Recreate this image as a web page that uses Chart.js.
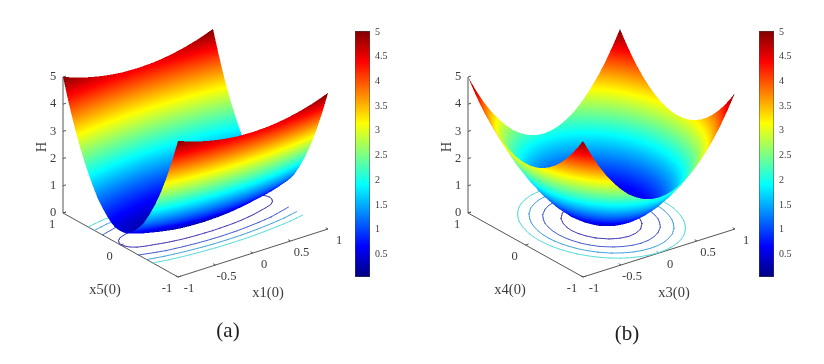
<!DOCTYPE html>
<html>
<head>
<meta charset="utf-8">
<title>H surfaces</title>
<script src="https://cdn.jsdelivr.net/npm/chart.js@4"></script>
<style>
  html, body { margin: 0; padding: 0; background: #fff; }
  body { width: 824px; height: 364px; position: relative; overflow: hidden; }
  canvas { position: absolute; filter: blur(0.4px); }
</style>
</head>
<body>
<canvas id="panelA" width="330" height="330" style="left:20px;top:20px"></canvas>
<canvas id="barA" width="50" height="270" style="left:350px;top:20px"></canvas>
<canvas id="panelB" width="330" height="330" style="left:425px;top:20px"></canvas>
<canvas id="barB" width="50" height="270" style="left:754px;top:20px"></canvas>
<script>
// grid positions on the floor axes, panel (a) has closer rows along its trough
const gridPos = [-1, -0.9, -0.8, -0.7, -0.6, -0.5, -0.4, -0.3, -0.2, -0.1, 0, 0.1, 0.2, 0.3, 0.4, 0.5, 0.6, 0.7, 0.8, 0.9, 1];
const rowPosA = [-1, -0.9, -0.8, -0.7, -0.6, -0.5, -0.4, -0.3, -0.25, -0.2, -0.15, -0.1, -0.05, 0, 0.05, 0.1, 0.15, 0.2, 0.25, 0.3, 0.4, 0.5, 0.6, 0.7, 0.8, 0.9, 1];

// H: rows x5 = 1 .. 0, columns x1 = 1 .. 0 (surface is symmetric)
const heightsA = [
  [5.00, 4.90, 4.80, 4.72, 4.65, 4.59, 4.54, 4.50, 4.47, 4.46, 4.45],
  [4.16, 4.06, 3.96, 3.88, 3.81, 3.75, 3.70, 3.66, 3.63, 3.62, 3.61],
  [3.41, 3.31, 3.21, 3.13, 3.06, 3.00, 2.95, 2.91, 2.88, 2.87, 2.86],
  [2.75, 2.65, 2.55, 2.47, 2.40, 2.34, 2.29, 2.25, 2.22, 2.21, 2.20],
  [2.18, 2.08, 1.98, 1.90, 1.83, 1.77, 1.72, 1.68, 1.65, 1.64, 1.63],
  [1.69, 1.59, 1.49, 1.41, 1.34, 1.28, 1.23, 1.19, 1.16, 1.15, 1.14],
  [1.26, 1.17, 1.08, 1.00, 0.94, 0.88, 0.84, 0.80, 0.77, 0.76, 0.75],
  [0.96, 0.87, 0.79, 0.73, 0.67, 0.62, 0.57, 0.54, 0.52, 0.51, 0.50],
  [0.83, 0.73, 0.65, 0.59, 0.53, 0.48, 0.43, 0.40, 0.38, 0.37, 0.36],
  [0.71, 0.62, 0.54, 0.48, 0.42, 0.37, 0.32, 0.29, 0.27, 0.26, 0.25],
  [0.61, 0.51, 0.43, 0.37, 0.31, 0.26, 0.21, 0.18, 0.16, 0.15, 0.14],
  [0.55, 0.45, 0.37, 0.31, 0.25, 0.20, 0.15, 0.12, 0.10, 0.09, 0.08],
  [0.52, 0.42, 0.34, 0.28, 0.22, 0.17, 0.12, 0.09, 0.07, 0.06, 0.05],
  [0.51, 0.41, 0.33, 0.27, 0.21, 0.16, 0.11, 0.08, 0.06, 0.05, 0.04]
];

// H: rows x4 = 1 .. 0, columns x3 = 1 .. 0
const heightsB = [
  [5.00, 4.44, 3.93, 3.49, 3.11, 2.78, 2.51, 2.31, 2.16, 2.07, 2.04],
  [4.62, 4.06, 3.55, 3.11, 2.73, 2.40, 2.13, 1.93, 1.78, 1.69, 1.66],
  [4.28, 3.72, 3.21, 2.77, 2.39, 2.06, 1.79, 1.59, 1.44, 1.35, 1.32],
  [3.98, 3.42, 2.91, 2.47, 2.09, 1.76, 1.49, 1.29, 1.14, 1.05, 1.02],
  [3.72, 3.16, 2.65, 2.21, 1.83, 1.50, 1.23, 1.03, 0.88, 0.79, 0.76],
  [3.50, 2.94, 2.43, 1.99, 1.61, 1.28, 1.01, 0.81, 0.66, 0.57, 0.54],
  [3.32, 2.76, 2.25, 1.81, 1.43, 1.10, 0.83, 0.63, 0.48, 0.39, 0.36],
  [3.18, 2.62, 2.11, 1.67, 1.29, 0.96, 0.69, 0.49, 0.34, 0.25, 0.22],
  [3.08, 2.52, 2.01, 1.57, 1.19, 0.86, 0.59, 0.39, 0.24, 0.15, 0.12],
  [3.02, 2.46, 1.95, 1.51, 1.13, 0.80, 0.53, 0.33, 0.18, 0.09, 0.06],
  [3.00, 2.44, 1.93, 1.49, 1.11, 0.78, 0.51, 0.31, 0.16, 0.07, 0.04]
];

const contourLevels = [0.5, 1, 1.5, 2];
const contourColors = ['#4a3fb5', '#4a62cf', '#4aa6dc', '#5fdcdc'];
const heightTicks = [0, 1, 2, 3, 4, 5];
const depthTicks = [-1, 0, 1];
const widthTicks = [-1, -0.5, 0, 0.5, 1];
const colorbarTicks = [0.5, 1, 1.5, 2, 2.5, 3, 3.5, 4, 4.5, 5];
const colorbarLimits = [0.04, 5.02];

const jetPos = [0, 0.125, 0.375, 0.625, 0.875, 1];
const jetRgb = [[0, 0, 128], [0, 0, 255], [0, 255, 255], [255, 255, 0], [255, 0, 0], [128, 0, 0]];

const axisColor = '#555';
const textColor = '#3c3c3c';
const serif = '"Liberation Serif", serif';

const mirror = row => row.concat(row.slice(0, -1).reverse());

function jet(h) {
  const t = Math.min(1, Math.max(0, (h - 0.04) / 4.96));
  let i = 0;
  while (i < jetPos.length - 2 && t > jetPos[i + 1]) i++;
  const f = (t - jetPos[i]) / (jetPos[i + 1] - jetPos[i]);
  return jetRgb[i].map((v, k) => Math.round(v + (jetRgb[i + 1][k] - v) * f));
}

// write one triangle into the image, colour follows H across it
function fillTriangle(img, scale, tri) {
  const [a, b, c] = tri;
  const ax = a.px * scale, ay = a.py * scale;
  const bx = b.px * scale, by = b.py * scale;
  const cx = c.px * scale, cy = c.py * scale;
  const det = (by - cy) * (ax - cx) + (cx - bx) * (ay - cy);
  if (Math.abs(det) < 1e-6) return;
  const x0 = Math.max(0, Math.floor(Math.min(ax, bx, cx)));
  const x1 = Math.min(img.width - 1, Math.ceil(Math.max(ax, bx, cx)));
  const y0 = Math.max(0, Math.floor(Math.min(ay, by, cy)));
  const y1 = Math.min(img.height - 1, Math.ceil(Math.max(ay, by, cy)));
  for (let y = y0; y <= y1; y++) {
    for (let x = x0; x <= x1; x++) {
      const w1 = ((by - cy) * (x + 0.5 - cx) + (cx - bx) * (y + 0.5 - cy)) / det;
      const w2 = ((cy - ay) * (x + 0.5 - cx) + (ax - cx) * (y + 0.5 - cy)) / det;
      const w3 = 1 - w1 - w2;
      if (w1 < -1e-4 || w2 < -1e-4 || w3 < -1e-4) continue;
      const rgb = jet(w1 * a.h + w2 * b.h + w3 * c.h);
      const i = (y * img.width + x) * 4;
      img.data[i] = rgb[0];
      img.data[i + 1] = rgb[1];
      img.data[i + 2] = rgb[2];
      img.data[i + 3] = 255;
    }
  }
}

function contourSegment(ctx, tri, level) {
  const hits = [];
  tri.forEach((p, i) => {
    const q = tri[(i + 1) % 3];
    if ((p.h < level) !== (q.h < level)) {
      const t = (level - p.h) / (q.h - p.h);
      hits.push([p.gx + (q.gx - p.gx) * t, p.gy + (q.gy - p.gy) * t]);
    }
  });
  if (hits.length === 2) {
    ctx.moveTo(hits[0][0], hits[0][1]);
    ctx.lineTo(hits[1][0], hits[1][1]);
  }
}

function makePanel(id, heights, rowPos, view) {
  const table = mirror(heights).map(mirror);
  const rows = rowPos.length, cols = gridPos.length;
  const toU = (a, b) => view.ax * a + view.bx * b;
  const toV = (a, b, h) => view.ay * a + view.by * b + view.hy * h;

  const points = [];
  table.forEach((row, r) => row.forEach((h, c) => {
    const a = gridPos[c], b = rowPos[r];
    points.push({ x: toU(a, b), y: toV(a, b, h), floorY: toV(a, b, 0), h: h });
  }));

  const surfacePlugin = {
    id: 'surface',
    beforeDatasetsDraw(chart) {
      const ctx = chart.ctx;
      const sx = chart.scales.x, sy = chart.scales.y;
      const at = (a, b, h) => [sx.getPixelForValue(toU(a, b)), sy.getPixelForValue(toV(a, b, h))];
      const line = (p, q) => { ctx.beginPath(); ctx.moveTo(p[0], p[1]); ctx.lineTo(q[0], q[1]); ctx.stroke(); };
      const label = (text, p, dx, dy, font) => {
        ctx.font = font;
        ctx.fillText(text, p[0] + dx, p[1] + dy);
      };

      ctx.save();

      // axes
      ctx.strokeStyle = axisColor;
      ctx.lineWidth = 1;
      line(at(-1, 1, 0), at(-1, 1, 5));
      line(at(-1, 1, 0), at(-1, -1, 0));
      line(at(-1, -1, 0), at(1, -1, 0));
      heightTicks.forEach(v => line(at(-1, 1, v), at(-0.96, 1, v)));
      depthTicks.forEach(v => line(at(-1, v, 0), at(-0.96, v, 0)));
      widthTicks.forEach(v => line(at(v, -1, 0), at(v, -0.96, 0)));

      // tick labels and titles
      ctx.fillStyle = textColor;
      ctx.textAlign = 'center';
      ctx.textBaseline = 'middle';
      const tickFont = '12.5px ' + serif;
      const titleFont = '14.5px ' + serif;
      heightTicks.forEach(v => label(String(v), at(-1, 1, v), -10, 0, tickFont));
      depthTicks.forEach(v => label(String(v), at(-1, v, 0), -11, 11.5, tickFont));
      widthTicks.forEach(v => label(String(v), at(v, -1, 0), 11, 12, tickFont));
      label(view.depthTitle, at(-1, 0, 0), -15.5, 45.5, titleFont);
      label(view.widthTitle, at(0, -1, 0), 15, 40.5, titleFont);
      const zMid = at(-1, 1, 2.5);
      ctx.save();
      ctx.translate(zMid[0] - 21, zMid[1] + 2);
      ctx.rotate(-Math.PI / 2);
      ctx.font = titleFont;
      ctx.fillText('H', 0, 0);
      ctx.restore();
      ctx.fillStyle = '#1c1c1c';
      label(view.caption, at(0, 0, 0), view.capDx, view.capDy, '21px ' + serif);

      // mesh vertices in pixels, taken from the dataset
      const data = chart.data.datasets[0].data;
      const vert = (r, c) => {
        const d = data[r * cols + c];
        return { px: sx.getPixelForValue(d.x), py: sy.getPixelForValue(d.y), gx: sx.getPixelForValue(d.x), gy: sy.getPixelForValue(d.floorY), h: d.h };
      };

      // contours on the floor
      ctx.lineWidth = 1;
      ctx.lineCap = 'round';
      contourLevels.forEach((level, k) => {
        ctx.strokeStyle = contourColors[k];
        ctx.beginPath();
        for (let r = 0; r < rows - 1; r++) {
          for (let c = 0; c < cols - 1; c++) {
            const ll = vert(r, c), hl = vert(r, c + 1), lh = vert(r + 1, c), hh = vert(r + 1, c + 1);
            contourSegment(ctx, [hh, hl, lh], level);
            contourSegment(ctx, [ll, hl, lh], level);
          }
        }
        ctx.stroke();
      });

      // surface, painted from the far corner to the near one, at double size then scaled down
      const ss = 2;
      const off = document.createElement('canvas');
      off.width = chart.width * ss;
      off.height = chart.height * ss;
      const octx = off.getContext('2d');
      const img = octx.createImageData(off.width, off.height);
      for (let r = rows - 2; r >= 0; r--) {
        for (let c = cols - 2; c >= 0; c--) {
          const ll = vert(r, c), hl = vert(r, c + 1), lh = vert(r + 1, c), hh = vert(r + 1, c + 1);
          fillTriangle(img, ss, [hh, hl, lh]);
          fillTriangle(img, ss, [ll, hl, lh]);
        }
      }
      octx.putImageData(img, 0, 0);
      ctx.imageSmoothingEnabled = true;
      ctx.drawImage(off, 0, 0, chart.width, chart.height);
      ctx.restore();
    }
  };

  return new Chart(document.getElementById(id), {
    type: 'scatter',
    data: { datasets: [{ label: 'H', data: points, pointRadius: 0, showLine: false }] },
    options: {
      responsive: false,
      animation: false,
      events: [],
      plugins: { legend: { display: false }, tooltip: { enabled: false } },
      scales: {
        x: { type: 'linear', display: false, min: view.uMin, max: view.uMin + 330 },
        y: { type: 'linear', display: false, min: -129, max: 201 }
      }
    },
    plugins: [surfacePlugin]
  });
}

function makeColorbar(id) {
  return new Chart(document.getElementById(id), {
    type: 'bar',
    data: {
      labels: ['H'],
      datasets: [{
        data: [colorbarLimits],
        barPercentage: 1,
        categoryPercentage: 1,
        borderWidth: 0.8,
        borderColor: '#444',
        borderSkipped: false,
        backgroundColor(c) {
          const area = c.chart.chartArea;
          if (!area) return '#00f';
          const g = c.chart.ctx.createLinearGradient(0, area.bottom, 0, area.top);
          jetPos.forEach((p, i) => g.addColorStop(p, `rgb(${jetRgb[i].join(',')})`));
          return g;
        }
      }]
    },
    options: {
      responsive: false,
      animation: false,
      events: [],
      layout: { padding: { left: 5, top: 10, bottom: 13, right: 0 } },
      plugins: { legend: { display: false }, tooltip: { enabled: false } },
      scales: {
        x: { display: false },
        y: {
          position: 'right',
          min: colorbarLimits[0],
          max: colorbarLimits[1],
          afterBuildTicks(scale) { scale.ticks = colorbarTicks.map(v => ({ value: v })); },
          afterFit(scale) { scale.width = 30; },
          border: { display: false },
          grid: { display: false, drawTicks: false },
          ticks: { padding: 5, color: textColor, font: { family: serif, size: 10 }, callback: v => String(v) }
        }
      }
    }
  });
}

makePanel('panelA', heightsA, rowPosA, {
  ax: 75, bx: -57.5, ay: 24, by: 32, hy: 27.2, uMin: -175.5,
  depthTitle: 'x5(0)', widthTitle: 'x1(0)', caption: '(a)', capDx: 32.5, capDy: 110
});
makePanel('panelB', heightsB, gridPos, {
  ax: 76, bx: -57.5, ay: 24, by: 32, hy: 27.2, uMin: -176.5,
  depthTitle: 'x4(0)', widthTitle: 'x3(0)', caption: '(b)', capDx: 25.5, capDy: 113
});
makeColorbar('barA');
makeColorbar('barB');
</script>
</body>
</html>
